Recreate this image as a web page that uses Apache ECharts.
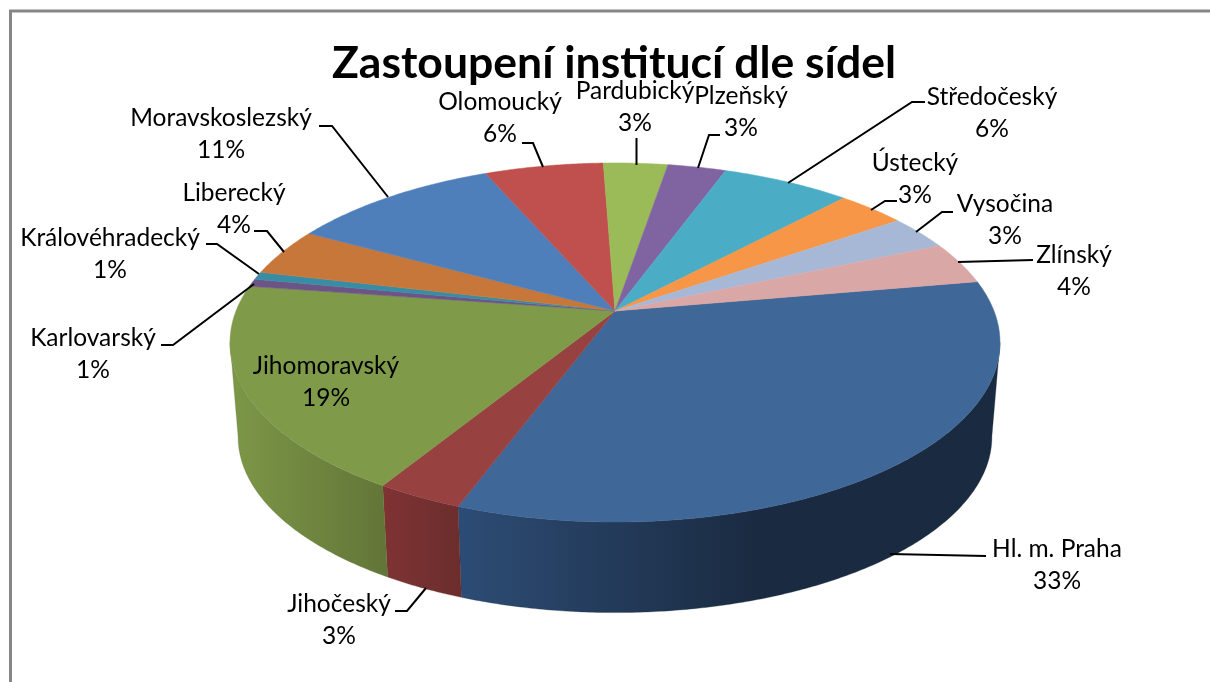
<!DOCTYPE html>
<html>
<head>
<meta charset="utf-8">
<title>Zastoupení institucí dle sídel</title>
<style>
html, body { margin: 0; padding: 0; background: #fff; }
#container { width: 1210px; height: 682px; }
</style>
<script src="https://cdn.jsdelivr.net/npm/echarts@6/dist/echarts.min.js"></script>
</head>
<body>
<div id="container"></div>
<script>
var kraje = ['Hl. m. Praha', 'Jihočeský', 'Jihomoravský', 'Karlovarský', 'Královéhradecký', 'Liberecký',
    'Moravskoslezský', 'Olomoucký', 'Pardubický', 'Plzeňský', 'Středočeský', 'Ústecký', 'Vysočina', 'Zlínský'];
var podily = [33.4, 3.1, 18.6, 0.7, 0.7, 4.3, 10.5, 5.9, 3.2, 2.9, 6.4, 3.4, 3.1, 3.8];

var barvy = ['#3F6797', '#984141', '#7F9B49', '#6D5487', '#388CA3', '#C8773A', '#4F7FBB',
    '#BF504D', '#9BBB59', '#8064A2', '#4BACC6', '#F79646', '#A7B8D7', '#D8A7A6'];
// stena: svetlejsi vlevo, tmavsi vpravo
var stenyL = ['#2D4C75', '#7F3333', '#7D9747', '#5A4670', '#2E7488', '#A66330', '#41699B',
    '#9E4240', '#81A04A', '#6A5386', '#3E8EA4', '#CC7C3A', '#8A98B2', '#B38A89'];
var stenyP = ['#1A2B41', '#6B2D2D', '#627538', '#3F314E', '#20515F', '#743C22', '#2D4A6C',
    '#6E2E2D', '#5A7034', '#4A3A5E', '#2B6372', '#8E5728', '#606A7C', '#7D6060'];

// stred popisku [x, y]
var popisky = [[1057, 565], [339, 620], [326, 382], [93, 354], [110, 254], [234, 209], [221, 134],
    [500, 118], [635, 107], [741, 112], [992, 113], [915, 179], [1005, 220], [1074, 271]];
// vodici cary
var vodici = [
    [[890, 554], [986, 556]],
    [[426, 588], [407, 611], [395, 611]],
    null,
    [[254, 284], [173, 345], [161, 345]],
    [[259, 274], [217, 244], [206, 244]],
    [[284, 252], [267, 231], [254, 231]],
    [[388, 197], [332, 126], [319, 126]],
    [[543, 167], [533, 143], [522, 143]],
    [[636.5, 165], [636.5, 138]],
    [[698, 168], [709, 135], [720, 135]],
    [[788, 183], [912, 102], [925, 102]],
    [[871, 210], [885, 201], [897, 201]],
    [[916, 232], [942, 212], [953, 212]],
    [[958, 262], [1033, 260]]
];

var pocatek = -10;  // prvni vysec, stupne po smeru hodin
var cx = 615, cyHore = 311, cyDole = 406;
var R = 379, H = 174, perspektiva = 0.1755, meritkoDole = 0.979;
var stenaMin = 10, stenaMax = 170;  // kde je kolac nejsirsi

var soucet = 0;
for (var i = 0; i < podily.length; i++) {
    soucet += podily[i];
}
var zacatky = [];
var nacteno = 0;
for (var i = 0; i < podily.length; i++) {
    zacatky.push(pocatek + nacteno / soucet * 360);
    nacteno += podily[i];
}

function bod(uhel, cy, m) {
    var a = uhel * Math.PI / 180;
    var u = Math.cos(a), v = Math.sin(a);
    var s = m / (1 - perspektiva * v);
    return [cx + R * u * s, cy + H * v * s];
}

function oblouk(od, po, cy, m) {
    var body = [];
    var n = Math.max(2, Math.ceil((po - od) * 2));
    for (var i = 0; i <= n; i++) {
        body.push(bod(od + (po - od) * i / n, cy, m));
    }
    return body;
}

function vykresliVysec(params, api) {
    var i = params.dataIndex;
    var hodnota = api.value(1);
    var od = zacatky[i];
    var po = od + hodnota / soucet * 360;
    var deti = [];

    // stena jen pro predni cast kolace
    var stenaOd = Math.max(od, stenaMin), stenaPo = Math.min(po, stenaMax);
    if (stenaPo > stenaOd) {
        var stena = oblouk(stenaOd, stenaPo, cyHore, 1).concat(oblouk(stenaOd, stenaPo, cyDole, meritkoDole).reverse());
        var konec = i === 0 ? 0.55 : 1;
        var vypln = new echarts.graphic.LinearGradient(0, 0, 1, 0, [
            {offset: 0, color: stenyL[i]},
            {offset: konec, color: stenyP[i]},
            {offset: 1, color: stenyP[i]}
        ]);
        deti.push({
            type: 'polygon',
            z2: 1,
            shape: {points: stena},
            style: {fill: vypln, stroke: stenyP[i], lineWidth: 0.3}
        });
    }

    var vrch = [[cx, cyHore]].concat(oblouk(od, po, cyHore, 1));
    deti.push({
        type: 'polygon',
        z2: 2,
        shape: {points: vrch},
        style: {fill: barvy[i], stroke: barvy[i], lineWidth: 0.5}
    });

    if (vodici[i]) {
        deti.push({
            type: 'polyline',
            z2: 3,
            shape: {points: vodici[i]},
            style: {fill: null, stroke: '#000', lineWidth: 2}
        });
    }

    deti.push({
        type: 'text',
        z2: 4,
        x: popisky[i][0],
        y: popisky[i][1],
        style: {
            text: kraje[i] + '\n' + Math.round(hodnota) + '%',
            fill: '#000',
            font: '24.5px Lato',
            lineHeight: 32,
            align: 'center',
            verticalAlign: 'middle'
        }
    });

    return {type: 'group', children: deti};
}

var data = [];
for (var i = 0; i < kraje.length; i++) {
    data.push({name: kraje[i], value: [i, podily[i]]});
}

var myChart = echarts.init(document.getElementById('container'));
var option = {
    animation: false,
    backgroundColor: '#fff',
    title: {
        text: 'Zastoupení institucí dle sídel',
        left: 327,
        top: 36,
        textStyle: {fontFamily: 'Lato', fontSize: 44.5, fontWeight: 'bold', color: '#000'}
    },
    graphic: [{
        type: 'polyline',
        shape: {points: [[10.5, 682], [10.5, 11], [1210, 11]]},
        style: {fill: null, stroke: '#868686', lineWidth: 3}
    }],
    series: [{
        type: 'custom',
        coordinateSystem: 'none',
        renderItem: vykresliVysec,
        data: data
    }]
};
myChart.setOption(option);
</script>
</body>
</html>
